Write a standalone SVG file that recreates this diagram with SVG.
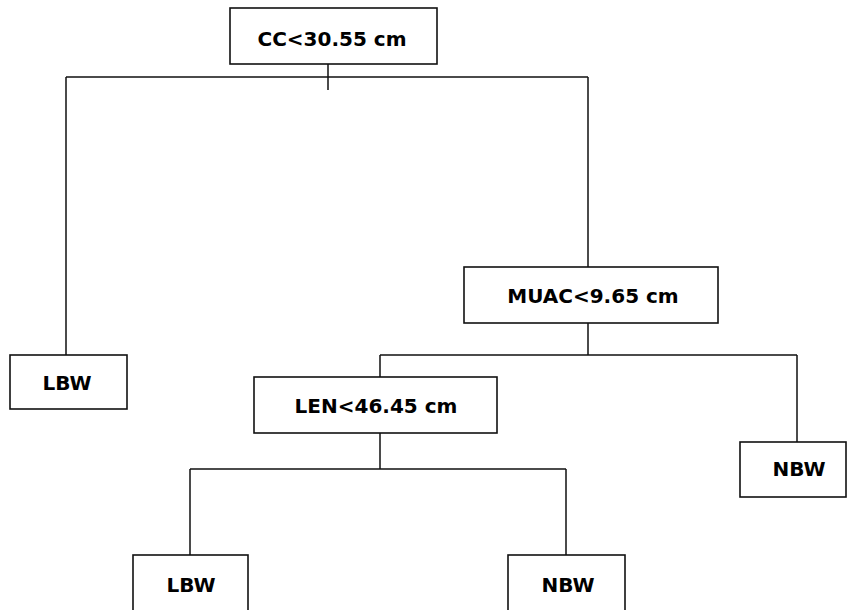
<svg xmlns="http://www.w3.org/2000/svg" width="848" height="610" viewBox="0 0 848 610">
<style>
.box{fill:#fff;stroke:#111;stroke-width:1.6}
.ln{fill:none;stroke:#111;stroke-width:1.5}
text{font-family:"DejaVu Sans",Tahoma,sans-serif;font-weight:bold;font-size:20px;fill:#000;text-anchor:middle}
</style>
<rect width="848" height="610" fill="#fff"/>
<g id="connectors">
<path class="ln" d="M328 64V90M66 77H588M66 77V355M588 77V267M588 323V355M380 355H797M380 355V377M797 355V442M380 433V469M190 469H566M190 469V555M566 469V555"/>
</g>
<g id="root"><rect class="box" x="230" y="8" width="207" height="56"/><text x="332" y="46">CC&lt;30.55 cm</text></g>
<g id="lbw1"><rect class="box" x="10" y="355" width="117" height="54"/><text x="67" y="390">LBW</text></g>
<g id="muac"><rect class="box" x="464" y="267" width="254" height="56"/><text x="593" y="303">MUAC&lt;9.65 cm</text></g>
<g id="len"><rect class="box" x="254" y="377" width="243" height="56"/><text x="376" y="413">LEN&lt;46.45 cm</text></g>
<g id="nbw1"><rect class="box" x="740" y="442" width="106" height="55"/><text x="799" y="476">NBW</text></g>
<g id="lbw2"><rect class="box" x="133" y="555" width="115" height="80"/><text x="191" y="592">LBW</text></g>
<g id="nbw2"><rect class="box" x="508" y="555" width="117" height="80"/><text x="568" y="592">NBW</text></g>
</svg>
